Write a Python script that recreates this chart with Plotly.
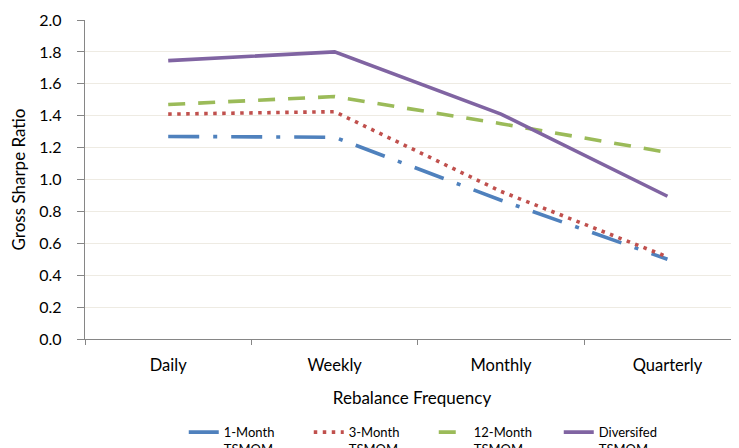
import plotly.graph_objects as go

categories = ["Daily", "Weekly", "Monthly", "Quarterly"]
series_names = ["1-Month<br>TSMOM", "3-Month<br>TSMOM", "12-Month<br>TSMOM", "Diversifed<br>TSMOM"]
one_month = [1.27, 1.265, 0.87, 0.50]
three_month = [1.41, 1.425, 0.925, 0.515]
twelve_month = [1.47, 1.52, 1.35, 1.17]
diversified = [1.745, 1.80, 1.41, 0.895]
y_ticks = [0.0, 0.2, 0.4, 0.6, 0.8, 1.0, 1.2, 1.4, 1.6, 1.8, 2.0]

colors = ["#4F81BD", "#C0504D", "#9BBB59", "#8064A2"]
dashes = ["31px,14px,4px,14px", "3.5px,5.5px", "17px,13px", "solid"]
values = [one_month, three_month, twelve_month, diversified]

fig = go.Figure()
for name, vals, c, d in zip(series_names, values, colors, dashes):
    fig.add_trace(go.Scatter(
        x=categories, y=vals, name=name, mode="lines",
        line=dict(color=c, width=3.6, dash=d),
    ))

# page body has an 8px default margin, so the figure is 8px smaller
fig.update_layout(
    width=731, height=440,
    margin=dict(l=77, r=0, t=12, b=109, autoexpand=False),
    paper_bgcolor="white", plot_bgcolor="white",
    font=dict(family="Lato, Open Sans, sans-serif", size=15, color="#000000"),
    showlegend=True,
    legend=dict(orientation="h", x=0.151, xanchor="left", y=-0.245, yanchor="top",
                font=dict(size=13), entrywidth=80, tracegroupgap=0,
                valign="top"),
)
fig.update_xaxes(
    type="category", range=[-0.5, 3.43],
    showline=True, linecolor="#868686", linewidth=1.3,
    ticks="outside", tickson="boundaries", ticklen=5, tickcolor="#868686",
    showgrid=False, ticklabelstandoff=11,
    tickfont=dict(size=16.5),
    title=dict(text="Rebalance Frequency", standoff=18,
               font=dict(family="Lato, Open Sans, sans-serif", size=17)),
)
fig.update_yaxes(
    range=[0, 2.0], tickvals=y_ticks, tickformat=".1f",
    showline=True, linecolor="#868686", linewidth=1.3,
    ticks="outside", ticklen=7, tickcolor="#868686",
    showgrid=True, gridcolor="#EEEBE3", gridwidth=1.2,
    zeroline=False, ticklabelstandoff=12,
    tickfont=dict(size=16),
    title=dict(text="Gross Sharpe Ratio", standoff=12,
               font=dict(family="Lato, Open Sans, sans-serif", size=17)),
)

fig.write_html("out.html")
